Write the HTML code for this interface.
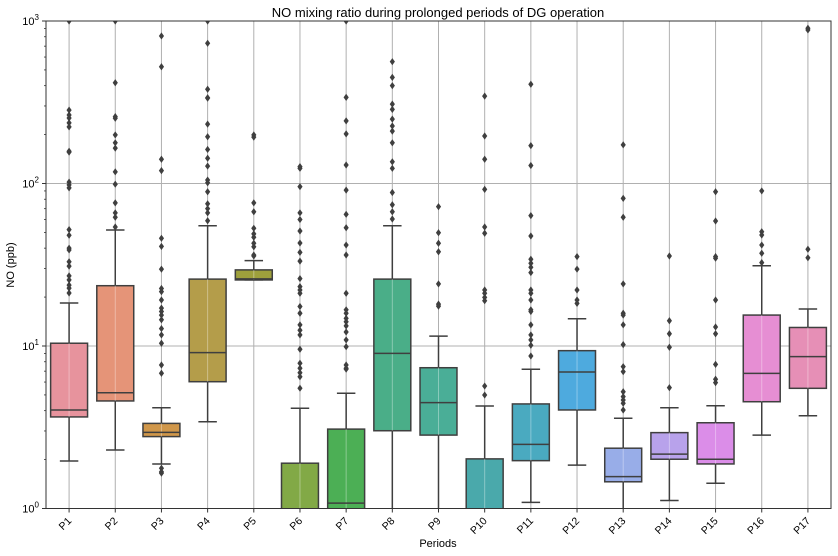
<!DOCTYPE html>
<html><head><meta charset="utf-8"><style>
html,body{margin:0;padding:0;background:#fff;width:838px;height:556px;overflow:hidden;}
svg{display:block;font-family:"Liberation Sans","DejaVu Sans",sans-serif;overflow:hidden;}
</style></head><body>
<svg id="chart" width="838" height="556" viewBox="0 0 838 556" xmlns="http://www.w3.org/2000/svg">
<text x="438" y="17" font-size="13" text-anchor="middle" fill="#000">NO mixing ratio during prolonged periods of DG operation</text>
<text x="438" y="547" font-size="11" text-anchor="middle" fill="#000">Periods</text>
<text x="14" y="265" font-size="11" text-anchor="middle" fill="#000" transform="rotate(-90 14 265)">NO (ppb)</text>
<defs><clipPath id="plotclip"><rect x="46" y="21" width="785" height="487.5"/></clipPath></defs>
<g id="grid"></g>
<g id="marks" clip-path="url(#plotclip)"></g>
<g id="axes"></g>
</svg>
<script>
const categories = ["P1","P2","P3","P4","P5","P6","P7","P8","P9","P10","P11","P12","P13","P14","P15","P16","P17"];
const q1Values = [3.66,4.59,2.77,6.03,25.5,0.5,0.5,3.01,2.83,0.5,1.97,4.04,1.46,2.01,1.88,4.54,5.49];
const medianValues = [4.04,5.16,2.94,9.1,25.9,0.8,1.08,9.0,4.48,0.8,2.48,6.92,1.57,2.16,2.01,6.79,8.6];
const q3Values = [10.4,23.5,3.34,25.8,29.4,1.9,3.08,25.8,7.35,2.02,4.4,9.36,2.35,2.93,3.37,15.5,13.0];
const whiskerLow = [1.96,2.29,1.88,3.42,25.5,0.2,0.2,0.2,0.2,0.2,1.09,1.85,0.2,1.12,1.43,2.83,3.72];
const whiskerHigh = [18.4,51.7,4.17,55,33.5,4.14,5.12,55,11.5,4.27,7.19,14.7,3.59,4.17,4.29,31.2,16.9];
const outliers = [
 [1000,283,264,253,236,223,158,156,102,98,94,52,48,40,39,33,31,27,25.5,23.7,22.7,21.2],
 [1000,417,258,252,199,178,165,118,99,76,66,62,54],
 [809,523,141,120,46,41,29.7,22.6,21.6,19.2,17.1,16.3,15.5,14.5,12.8,11.7,10.4,7.64,6.8,1.77,1.68,1.65],
 [1000,729,380,337,335,232,194,162,143,128,105,101,89,75,70,66,59],
 [199,193,76,67,53,49,46.7,42.9,40.8,36.3,35.8],
 [127,124,95.6,66,60,51,43,37.7,33.3,26,23.2,22.1,21.1,17.5,15.9,13.5,12.5,11.7,9.55,7.83,7.3,6.85,6.47,5.5],
 [1000,339,243,202,130,91,64.6,53.4,41.8,36.3,21.1,16.7,15.9,14.8,14.1,13.3,12.2,10.9,9.9,7.64,7.3,7.2],
 [562,450,400,308,286,249,226,210,178,136,124,88,74,67,60.5],
 [72,49.8,42.9,38,24.1,18.1,17.6],
 [345,196,141,92,54,49.4,22.1,21.1,19.9,19.0,5.67,4.99],
 [408,171,129,63.4,47.5,34.2,32.3,30.5,28.3,22.1,21.1,19.2,16.7,16.3,13.5,11.7,10.9,10.1,8.68],
 [35.5,29.7,22.1,19.2,18.3],
 [173,81,62,24.1,15.9,15.5,13.5,10.2,7.46,6.95,5.23,4.88,4.65,4.44,4.04],
 [35.8,14.3,11.9,9.82,5.54],
 [89,58.8,35.5,34.7,19.2,13.1,11.9,7.71,6.24,5.95],
 [90,50.5,48.2,41.8,37.2,32.6],
 [902,881,39.4,34.9]
];
const boxColors = ["#e7939d","#e59478","#d0974a","#b49d4a","#9ea03c","#82a946","#4caf55","#4aae88","#4aae97","#4aa9ab","#4aaac0","#4eaade","#98ade8","#b8a2eb","#db8de8","#e68ed3","#e68fb6"];
const yTicks = [1,10,100,1000];
const yTickExp = ["0","1","2","3"];

const L=46,R=831,T=21,B=508.5;
const NS="http://www.w3.org/2000/svg";
function yScale(v){return B-(Math.log10(v)-0)/3*(B-T);}
function clampY(y){return Math.min(B+1,Math.max(T-1,y));}
const band=(R-L)/categories.length;
function xScale(i){return L+band*(i+0.5);}
function mk(tag,attrs,parent){const e=document.createElementNS(NS,tag);for(const k in attrs)e.setAttribute(k,attrs[k]);parent.appendChild(e);return e;}
const grid=document.getElementById('grid'),marks=document.getElementById('marks'),axes=document.getElementById('axes');
const ink="#3f3f3f";
yTicks.forEach(function(t){
  if(t>1&&t<1000){const g=mk('line',{x1:L,x2:R,y1:yScale(t),y2:yScale(t),stroke:"#b0b0b0","stroke-width":1},grid);
  
  }
});
categories.forEach(function(c,i){
  const g=mk('line',{x1:xScale(i),x2:xScale(i),y1:T,y2:B,stroke:"#b0b0b0","stroke-width":1},grid);
  
  
});
const bw=band*0.8;
categories.forEach(function(c,i){
  const cx=xScale(i);
  const g=mk('g',{},marks);
  
  
  const yq1=clampY(yScale(q1Values[i])),yq3=clampY(yScale(q3Values[i]));
  const ywh=clampY(yScale(whiskerHigh[i])),ywl=clampY(yScale(whiskerLow[i]));
  const ymed=clampY(yScale(medianValues[i]));
  mk('line',{x1:cx,x2:cx,y1:yq3,y2:ywh,stroke:ink,"stroke-width":1.5},g);
  mk('line',{x1:cx,x2:cx,y1:yq1,y2:ywl,stroke:ink,"stroke-width":1.5},g);
  mk('line',{x1:cx-bw/4,x2:cx+bw/4,y1:ywh,y2:ywh,stroke:ink,"stroke-width":1.5},g);
  if(ywl<B) mk('line',{x1:cx-bw/4,x2:cx+bw/4,y1:ywl,y2:ywl,stroke:ink,"stroke-width":1.5},g);
  mk('rect',{x:cx-bw/2,y:yq3,width:bw,height:yq1-yq3,fill:boxColors[i],stroke:ink,"stroke-width":1.5},g);
  mk('line',{x1:cx,x2:cx,y1:yq3,y2:yq1,stroke:"#ffffff","stroke-opacity":0.35,"stroke-width":1},g);
  if(ymed<B) mk('line',{x1:cx-bw/2,x2:cx+bw/2,y1:ymed,y2:ymed,stroke:ink,"stroke-width":1.5},g);
  outliers[i].forEach(function(v){
    const y=yScale(v);
    const d=mk('path',{d:"M"+cx+" "+(y-3.6)+"L"+(cx+2.6)+" "+y+"L"+cx+" "+(y+3.6)+"L"+(cx-2.6)+" "+y+"Z",fill:ink},g);
    
    
  });
});
const fr=mk('rect',{x:L,y:T,width:R-L,height:B-T,fill:"none",stroke:"#333","stroke-width":1},axes);


yTicks.forEach(function(t,k){
  const y=yScale(t);
  mk('line',{x1:L-4,x2:L,y1:y,y2:y,stroke:"#333","stroke-width":1},axes);
  const tx=mk('text',{x:L-7,y:y+4,"font-size":11,"text-anchor":"end",fill:"#000"},axes);
  
  
  const a=document.createElementNS(NS,'tspan');a.textContent="10";tx.appendChild(a);
  const b=document.createElementNS(NS,'tspan');b.setAttribute('dy','-5');b.setAttribute('font-size','8');b.textContent=yTickExp[k];tx.appendChild(b);
  if(t<1000){for(let m=2;m<10;m++){const ym=yScale(t*m);mk('line',{x1:L-2,x2:L,y1:ym,y2:ym,stroke:"#333","stroke-width":0.8},axes);}}
});
categories.forEach(function(c,i){
  const x=xScale(i);
  mk('line',{x1:x,x2:x,y1:B,y2:B+4,stroke:"#333","stroke-width":1},axes);
  const tx=mk('text',{x:x+3,y:B+13,"font-size":10.5,"text-anchor":"end",fill:"#000",transform:"rotate(-45 "+(x+3)+" "+(B+13)+")"},axes);
  
  
  tx.textContent=c;
});
</script>
</body></html>
